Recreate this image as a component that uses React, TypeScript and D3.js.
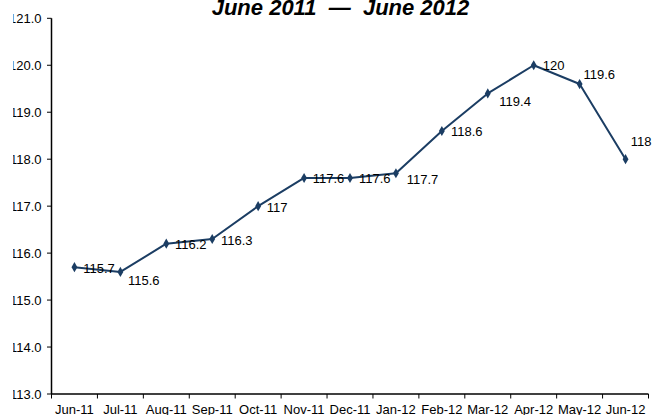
import React from "react";
import * as d3 from "d3";

const MONTHS = ["Jun-11", "Jul-11", "Aug-11", "Sep-11", "Oct-11", "Nov-11", "Dec-11", "Jan-12", "Feb-12", "Mar-12", "Apr-12", "May-12", "Jun-12"];
const VALUES = [115.7, 115.6, 116.2, 116.3, 117, 117.6, 117.6, 117.7, 118.6, 119.4, 120, 119.6, 118];
const VALUE_LABELS = ["115.7", "115.6", "116.2", "116.3", "117", "117.6", "117.6", "117.7", "118.6", "119.4", "120", "119.6", "118"];
const Y_TICKS = [113, 114, 115, 116, 117, 118, 119, 120, 121];
const Y_TICK_LABELS = ["113.0", "114.0", "115.0", "116.0", "117.0", "118.0", "119.0", "120.0", "121.0"];
const TITLE = "June 2011  —  June 2012";

// label placement offsets (pixels, relative to the point)
const LABEL_DX = [8.8, 7.6, 8.7, 8.8, 8.6, 8.7, 9, 10.8, 9.2, 11.6, 9.1, 3.8, 5.3];
const LABEL_DY = [1.6, 8.6, 1.1, 1.5, 1.4, 0.9, 0.9, 6.6, 0.6, 8.2, 0.4, -9.1, -17.6];

const W = 653;
const H = 415;
const LEFT = 51.5;
const RIGHT = 648.5;
const TOP = 18.3;
const BOTTOM = 394;
const COLOR = "#1b3d63";
const FONT = "'Liberation Sans', Arial, Helvetica, sans-serif";

export default function App() {
  const x = d3.scaleBand<string>().domain(MONTHS).range([LEFT, RIGHT]).padding(0);
  const y = d3.scaleLinear().domain([113, 121]).range([BOTTOM, TOP]);
  const cx = (m: string) => (x(m) as number) + x.bandwidth() / 2;

  const line = d3
    .line<number>()
    .x((_, i) => cx(MONTHS[i]))
    .y((d) => y(d));

  const boundaries = MONTHS.map((m) => x(m) as number).concat([RIGHT]);
  const diamond = d3.symbol().type(d3.symbolDiamond).size(30)() as string;

  return (
    <svg
      width={W}
      height={H}
      style={{ position: "absolute", left: 0, top: 0, background: "#fff" }}
      fontFamily={FONT}
    >
      <defs>
        <clipPath id="ylab">
          <rect x={13.2} y={0} width={60} height={H} />
        </clipPath>
      </defs>
      <rect x={0} y={0} width={W} height={H} fill="#fff" />
      <text
        x={340.5}
        y={15}
        textAnchor="middle"
        fontSize={22}
        fontStyle="italic"
        fontWeight="bold"
        fill="#000"
        style={{ whiteSpace: "pre" }}
      >
        {TITLE}
      </text>

      {/* y axis */}
      <line x1={LEFT} x2={LEFT} y1={TOP} y2={BOTTOM} stroke="#000" strokeWidth={1.5} />
      {Y_TICKS.map((t, i) => (
        <g key={t}>
          <line x1={LEFT - 4.5} x2={LEFT} y1={y(t)} y2={y(t)} stroke="#000" strokeWidth={1} />
          <text
            x={41.5}
            y={y(t)}
            dy="0.35em"
            textAnchor="end"
            fontSize={13}
            fill="#000"
            clipPath="url(#ylab)"
          >
            {Y_TICK_LABELS[i]}
          </text>
        </g>
      ))}

      {/* x axis */}
      <line x1={LEFT} x2={RIGHT} y1={BOTTOM} y2={BOTTOM} stroke="#000" strokeWidth={1.5} />
      {boundaries.map((b, i) => (
        <line key={i} x1={b} x2={b} y1={BOTTOM} y2={BOTTOM + 4.5} stroke="#000" strokeWidth={1} />
      ))}
      {MONTHS.map((m) => (
        <text key={m} x={cx(m)} y={414.3} textAnchor="middle" fontSize={13} fill="#000">
          {m}
        </text>
      ))}

      {/* series */}
      <path d={line(VALUES) as string} fill="none" stroke={COLOR} strokeWidth={2} strokeLinejoin="round" />
      {VALUES.map((v, i) => (
        <path key={i} d={diamond} transform={`translate(${cx(MONTHS[i])},${y(v)})`} fill={COLOR} />
      ))}
      {VALUES.map((v, i) => (
        <text
          key={"l" + i}
          x={cx(MONTHS[i]) + LABEL_DX[i]}
          y={y(v) + LABEL_DY[i]}
          dy="0.35em"
          fontSize={13}
          fill="#000"
        >
          {VALUE_LABELS[i]}
        </text>
      ))}
    </svg>
  );
}
